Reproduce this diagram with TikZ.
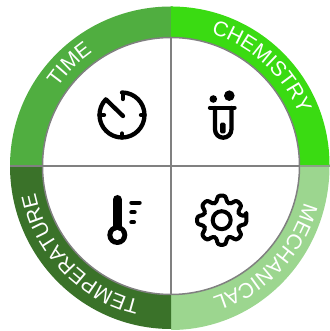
\documentclass[tikz,border=0pt]{standalone}
\usepackage{fontspec}
\setmainfont{Liberation Sans}
\usetikzlibrary{decorations.text}
\definecolor{ctime}{HTML}{50AE40}
\definecolor{cchem}{HTML}{3ADB12}
\definecolor{cmech}{HTML}{9CD68F}
\definecolor{ctemp}{HTML}{3A7229}
\definecolor{cline}{HTML}{808080}
\tikzset{
 x=1pt,y=1pt,
 divider/.style={draw=cline,line width=2pt},
 rim/.style={draw=cline,line width=1.5pt,fill=white},
 icon/.style={draw=black,line width=4.3pt,line cap=round,line join=round},
 lbl/.style={decorate,decoration={text along path,text align=center,
   text={|\fontsize{21}{21}\selectfont\color{white}|#1}}},
}
\begin{document}
\begin{tikzpicture}
\useasboundingbox (0,0) rectangle (329,331);
\coordinate (c) at (171,165);
% sectors (each overlaps the next so that no white seam shows)
\fill[ctime] ([xshift=2]c) -- ++(0,159.5) -- ++(-2,0) arc (90:180:161 and 159.5) -- ++(0,-2) -- ++(163,0) -- cycle;
\fill[cchem] (c) -- ++(90:159.5) arc (90:0:158.5) -- cycle;
\fill[cmech] (c) -- ++(0:158.5) arc (0:-90:158.5 and 164) -- cycle;
\fill[ctemp] (c) -- ++(270:163) arc (270:180:161 and 163) -- cycle;
\fill[rim] (c) circle (128.5);
\draw[divider] (c) -- ++(-161,0) (c) -- ++(128.5,0);
\draw[divider] (c) -- ++(0,128.5) (c) -- ++(0,-128.5);
\draw[divider,draw=cline!60!cmech] ([xshift=129]c) -- ++(29.5,0);
% labels
\path[lbl={TIME}] ([shift={(170:138)}]c) arc (170:100:138);
\path[lbl={CHEMISTRY}] ([shift={(87.5:138)}]c) arc (87.5:7.5:138);
\path[lbl={MECHANICAL}] ([shift={(-4:138)}]c) arc (-4:-84:138);
\path[lbl={TEMPERATURE}] ([shift={(-94:138)}]c) arc (-94:-178:138);
\begin{scope}[shift={(0,331)},yscale=-1]
% clock
\coordinate (k) at (122,115);
\draw[icon] (k) ++(-90:22.5) arc (-90:224:22.5) -- (123,116);
\draw[icon] (122.7,93) -- (122.7,99);
\draw[icon] (144.5,115) -- (141,115);
\draw[icon] (122,137.5) -- (122,133.5);
\draw[icon] (99.5,115) -- (104,115);
% test tube
\draw[icon] (210,107.7) -- (234.5,107.7);
\draw[icon] (215,108) -- (215,129.5) arc (180:0:8.2) -- (231.4,108);
\fill[black,rounded corners=1.5pt] (220,122.7) rectangle (225.5,133.5);
\fill[black] (213.3,99) circle (3.8);
\fill[black] (229.3,95.7) circle (5.3);
% thermometer
\draw[black,line width=9pt,line cap=round] (117.3,199.5) -- (117.3,230);
\fill[black] (117.3,235) circle (10);
\fill[white] (117.3,235) circle (5);
\draw[icon,line width=4pt] (131.3,202.7) -- (139.7,202.7);
\draw[icon,line width=4pt] (131.3,212.3) -- (134.7,212.3);
\draw[icon,line width=4pt] (131.3,222.3) -- (134,222.3);
% gear
\coordinate (g) at (221.7,220.2);
\draw[icon,line width=4pt,rounded corners=3pt] (g) ++(-10:25)
  \foreach \a in {0,45,...,315} {
    -- ([shift={(\a-10:25)}]g) -- ([shift={(\a+10:25)}]g)
    -- ([shift={(\a+15:18.5)}]g) -- ([shift={(\a+30:18.5)}]g)
  } -- cycle;
\draw[icon,line width=4pt] (g) circle (9);
\end{scope}
\end{tikzpicture}
\end{document}
